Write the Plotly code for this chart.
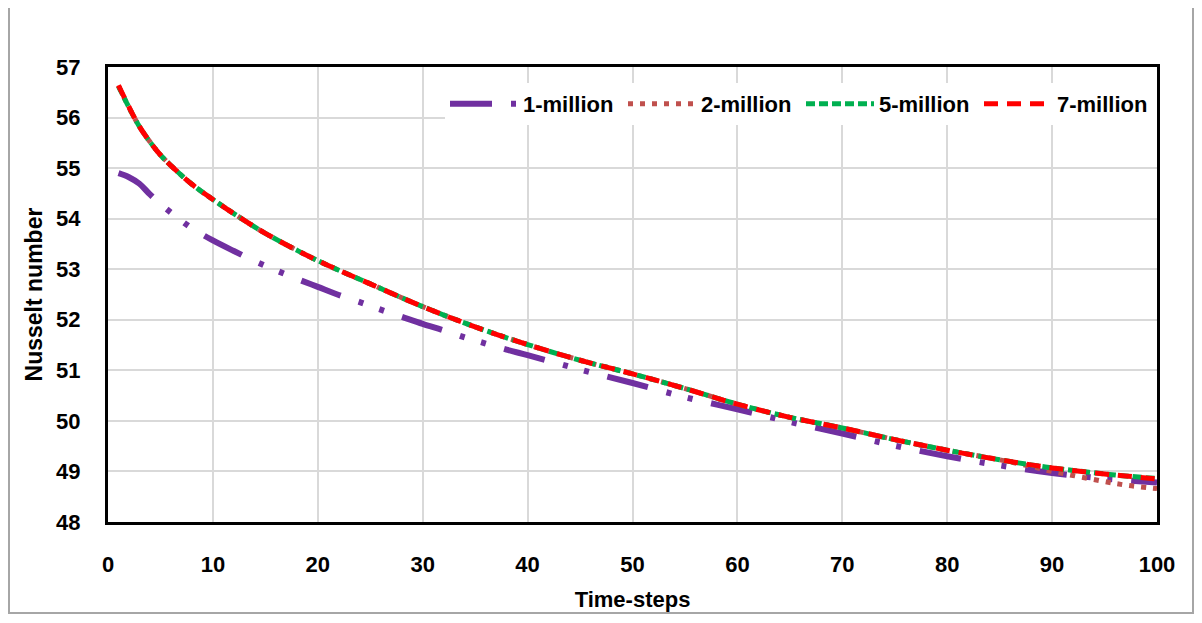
import plotly.graph_objects as go

# ---- data ----
x_1m = [1, 2, 3, 4, 5, 6, 8, 10, 12, 14, 16, 18, 20, 22, 24, 26, 28, 30, 32, 34, 36, 38, 40,
        43, 46, 50, 55, 60, 65, 70, 75, 80, 85, 90, 95, 100]
y_1m = [54.90, 54.82, 54.69, 54.48, 54.29, 54.12, 53.81, 53.57, 53.36, 53.16, 52.98, 52.81, 52.65,
        52.49, 52.35, 52.20, 52.06, 51.92, 51.79, 51.65, 51.53, 51.41, 51.30,
        51.13, 50.96, 50.75, 50.47, 50.23, 49.98, 49.75, 49.51, 49.30, 49.12, 48.97, 48.86, 48.78]

x_top = [1, 2, 3, 4, 5, 6, 8, 10, 12, 15, 20, 25, 30, 35, 40, 45, 50, 55, 60, 65, 70, 75, 80,
         85, 88, 90, 92, 95, 97, 100]
y_2m = [56.62, 56.20, 55.82, 55.52, 55.26, 55.05, 54.68, 54.38, 54.10, 53.71, 53.17, 52.71, 52.26,
        51.86, 51.51, 51.20, 50.93, 50.64, 50.33, 50.07, 49.86, 49.63, 49.42,
        49.23, 49.10, 49.00, 48.92, 48.80, 48.73, 48.66]
y_5m = [56.62, 56.20, 55.82, 55.52, 55.26, 55.05, 54.68, 54.38, 54.10, 53.71, 53.17, 52.71, 52.26,
        51.86, 51.51, 51.20, 50.93, 50.64, 50.33, 50.07, 49.86, 49.63, 49.42,
        49.23, 49.13, 49.07, 49.02, 48.95, 48.91, 48.86]
y_7m = [56.64, 56.21, 55.82, 55.52, 55.26, 55.05, 54.68, 54.38, 54.10, 53.71, 53.17, 52.71, 52.26,
        51.86, 51.51, 51.20, 50.93, 50.64, 50.33, 50.07, 49.86, 49.63, 49.42,
        49.23, 49.13, 49.07, 49.02, 48.95, 48.91, 48.85]

series_names = ["1-million", "2-million", "5-million", "7-million"]
y_ticks = [48, 49, 50, 51, 52, 53, 54, 55, 56, 57]
x_ticks = [0, 10, 20, 30, 40, 50, 60, 70, 80, 90, 100]

FONT = "Liberation Sans"

fig = go.Figure()
fig.add_trace(go.Scatter(x=x_1m, y=y_1m, name=series_names[0], mode="lines",
                         line=dict(color="#7030A0", width=6, shape="spline",
                                   dash="42px,19px,5px,17px,5px,19px")))
fig.add_trace(go.Scatter(x=x_top, y=y_2m, name=series_names[1], mode="lines",
                         line=dict(color="#C0504D", width=5, shape="spline", dash="5px,7px")))
fig.add_trace(go.Scatter(x=x_top, y=y_5m, name=series_names[2], mode="lines",
                         line=dict(color="#00B050", width=5, shape="spline", dash="9px,4px")))
fig.add_trace(go.Scatter(x=x_top, y=y_7m, name=series_names[3], mode="lines",
                         line=dict(color="#FF0000", width=5, shape="spline", dash="14px,9px")))

# page has an 8px body margin: figure is placed at (8, 8)
OFF = 8
W, H = 1202 - 2 * OFF, 623 - 2 * OFF
L, R, T, B = 108 - OFF, 1157 - OFF, 67 - OFF, 522 - OFF
pw, ph = R - L, B - T

def px(x):
    return (x - L) / pw

def py(y):
    return (B - y) / ph

fig.update_layout(
    width=W, height=H,
    margin=dict(l=L, r=W - R, t=T, b=H - B, autoexpand=False),
    paper_bgcolor="white", plot_bgcolor="white",
    font=dict(family=FONT, size=22, color="black"),
    showlegend=True,
    legend=dict(orientation="h", x=1.0, xanchor="right", y=0.965, yanchor="top",
                bgcolor="white", font=dict(family=FONT, size=22, weight="bold"),
                itemwidth=68, entrywidth=95, tracegroupgap=0),
    xaxis=dict(range=[0, 100], tickvals=x_ticks, showgrid=True, gridcolor="#D9D9D9", gridwidth=2,
               showline=True, linecolor="black", linewidth=3, mirror=True, zeroline=False,
               automargin=False,
               tickfont=dict(family=FONT, size=22, weight="bold"), ticklabelstandoff=21,
               title=dict(text="Time-steps", font=dict(family=FONT, size=22, weight="bold"),
                          standoff=16)),
    yaxis=dict(range=[48, 57], tickvals=y_ticks, showgrid=True, gridcolor="#D9D9D9", gridwidth=2,
               showline=True, linecolor="black", linewidth=3, mirror=True, zeroline=False,
               automargin=False,
               tickfont=dict(family=FONT, size=22, weight="bold"), ticklabelstandoff=20,
               title=dict(text="Nusselt number", font=dict(family=FONT, size=23, weight="bold"),
                          standoff=8)),
    shapes=[dict(type="rect", xref="paper", yref="paper",
                 x0=px(1), x1=px(W - 1), y0=py(H - 2), y1=py(-6),
                 line=dict(color="#A6A6A6", width=2), fillcolor="rgba(0,0,0,0)", layer="below")],
)

fig.write_html("out.html")
